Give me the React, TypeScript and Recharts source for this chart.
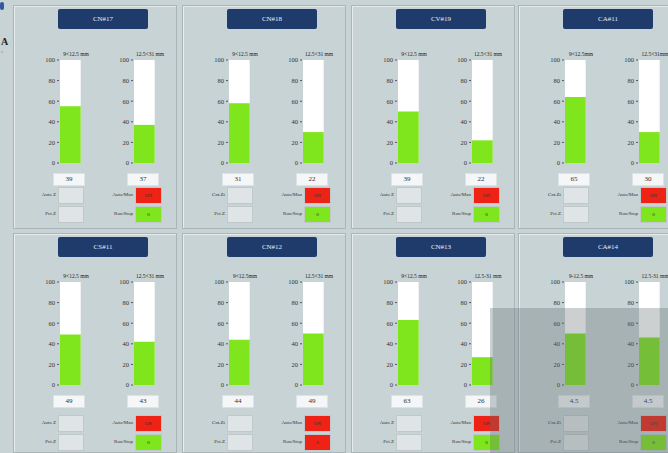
import React from "react";
import { BarChart, Bar, XAxis, YAxis } from "recharts";

const titles = ["CN#17", "CN#18", "CV#19", "CA#11", "CS#11", "CN#12", "CN#13", "CA#14"];
const leftRanges = ["9<12.5 mm", "9<12.5 mm", "9<12.5 mm", "9<12.5mm", "9<12.5 mm", "9<12.5mm", "9<12.5 mm", "9-12.5 mm"];
const rightRanges = ["12.5<31 mm", "12.5<31 mm", "12.5<31 mm", "12.5<31mm", "12.5<31 mm", "12.5<31 mm", "12.5-31 mm", "12.5-31 mm"];
const leftValues = [55, 58, 50, 64, 49, 44, 63, 50];
const rightValues = [37, 30, 22, 30, 42, 50, 27, 46];
const leftReadouts = ["39", "31", "39", "65", "49", "44", "63", "4.5"];
const rightReadouts = ["37", "22", "22", "30", "43", "49", "26", "4.5"];
const autoManOn = [true, true, true, true, true, true, true, true];
const runStopOn = [true, true, true, true, true, false, true, true];
const yTicks = [0, 20, 40, 60, 80, 100];

const BG = "#c8d3d5";
const GREEN = "#7fe51d";
const RED = "#ee2316";
const NAVY = "#1f3b6c";
const FONT = "'Liberation Serif', serif";

function Gauge({ value, label, readout, x, y }: { value: number; label: string; readout: string; x: number; y: number }) {
  return (
    <div style={{ position: "absolute", left: x, top: y }}>
      <div style={{ position: "absolute", left: 14, top: -4, width: 50, fontSize: 5.5, textAlign: "center", color: "#222", whiteSpace: "nowrap" }}>
        {label}
      </div>
      <BarChart width={48} height={113} data={[{ name: "v", v: value }]} margin={{ top: 5, right: 3, bottom: 5, left: 0 }} barCategoryGap={0}>
        <XAxis dataKey="name" hide />
        <YAxis
          domain={[0, 100]}
          ticks={yTicks}
          width={22}
          axisLine={false}
          tickSize={2}
          tickLine={{ stroke: "#555" }}
          tick={{ fontSize: 6.5, fill: "#333", fontFamily: FONT }}
        />
        <Bar dataKey="v" fill={GREEN} barSize={23} background={{ fill: "#ffffff" }} isAnimationActive={false} />
      </BarChart>
      <div
        style={{
          position: "absolute",
          left: 16,
          top: 118,
          width: 30,
          height: 11,
          background: "#f4f6f7",
          border: "1px solid #dde3e5",
          fontSize: 7,
          textAlign: "center",
          lineHeight: "11px",
          color: "#333",
        }}
      >
        {readout}
      </div>
    </div>
  );
}

function StatusBox({ x, y, w, label, color, text }: { x: number; y: number; w: number; label: string; color: string; text: string }) {
  return (
    <>
      <div style={{ position: "absolute", left: x - 40, top: y, width: 38, height: 16, lineHeight: "16px", fontSize: 5, textAlign: "right", color: "#333", whiteSpace: "nowrap" }}>
        {label}
      </div>
      <div
        style={{
          position: "absolute",
          left: x,
          top: y,
          width: w,
          height: 15,
          background: color,
          border: "1px solid #c0c8ca",
          fontSize: 5,
          textAlign: "center",
          lineHeight: "15px",
          color: "#333",
        }}
      >
        {text}
      </div>
    </>
  );
}

function Panel({ i, left, top, height, shift }: { i: number; left: number; top: number; height: number; shift: number }) {
  return (
    <div
      style={{
        position: "absolute",
        left,
        top,
        width: 164,
        height,
        border: "1px solid #aab5b8",
        boxShadow: "inset 1px 1px 0 #e6ecee",
        boxSizing: "border-box",
      }}
    >
      <div
        style={{
          position: "absolute",
          left: 44,
          top: 3,
          width: 90,
          height: 20,
          background: NAVY,
          borderRadius: 2,
          color: "#e8eef8",
          fontSize: 7,
          textAlign: "center",
          lineHeight: "20px",
        }}
      >
        {titles[i]}
      </div>
      <Gauge value={leftValues[i]} label={leftRanges[i]} readout={leftReadouts[i]} x={23} y={49 + shift} />
      <Gauge value={rightValues[i]} label={rightRanges[i]} readout={rightReadouts[i]} x={97} y={49 + shift} />
      <StatusBox x={44} y={181} w={24} label={i % 2 ? "Cnt.Zt" : "Auto Z"} color="#dfe5e6" text="" />
      <StatusBox x={44} y={200} w={24} label="Pct.Z" color="#dfe5e6" text="" />
      <StatusBox x={121} y={181} w={25} label="Auto/Man" color={autoManOn[i] ? RED : GREEN} text="ON" />
      <StatusBox x={121} y={200} w={25} label="Run/Stop" color={runStopOn[i] ? GREEN : RED} text="0" />
    </div>
  );
}

const colLefts = [13, 182, 351, 518];

export default function App() {
  return (
    <div style={{ position: "absolute", left: 0, top: 0, width: 668, height: 453, overflow: "hidden", background: BG, fontFamily: FONT }}>
      <div style={{ position: "absolute", left: 0, top: 2, width: 4, height: 8, background: "#3057a0", borderRadius: 2 }} />
      <div style={{ position: "absolute", left: 1, top: 36, fontSize: 10, fontWeight: "bold", color: "#222" }}>A</div>
      <div style={{ position: "absolute", left: 1, top: 49, fontSize: 4, color: "#444" }}>::</div>
      {colLefts.map((x, c) => (
        <Panel key={"a" + c} i={c} left={x} top={5} height={224} shift={0} />
      ))}
      {colLefts.map((x, c) => (
        <Panel key={"b" + c} i={c + 4} left={x} top={233} height={220} shift={-6} />
      ))}
      <div style={{ position: "absolute", left: 490, top: 308, width: 178, height: 145, background: "rgba(95,108,112,0.32)" }} />
    </div>
  );
}
